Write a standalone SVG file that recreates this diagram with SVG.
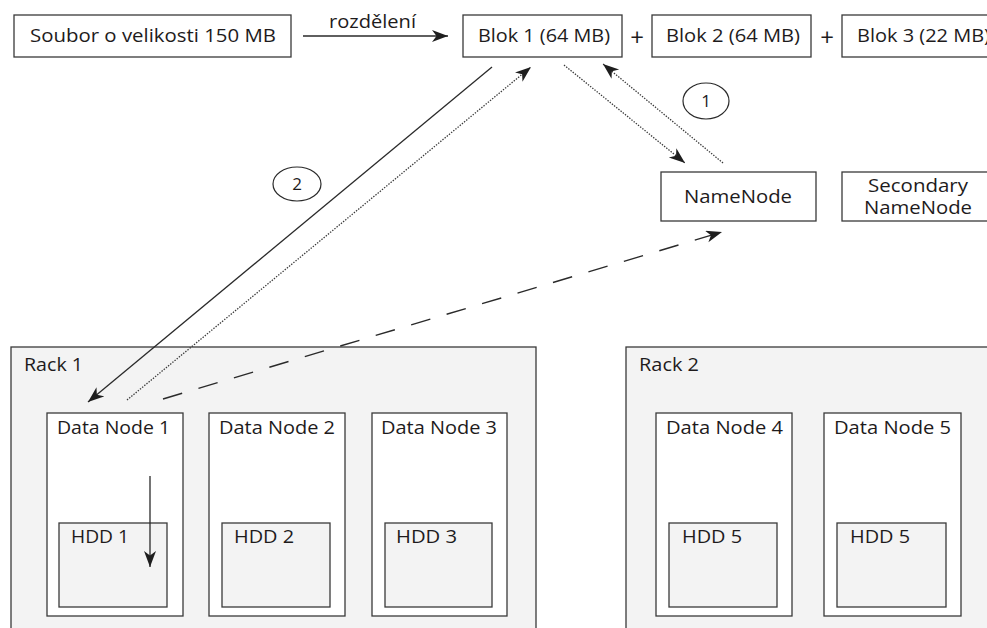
<svg xmlns="http://www.w3.org/2000/svg" width="987" height="628" viewBox="0 0 987 628">
  <style>
    .box { fill: #ffffff; stroke: #3a3a3a; stroke-width: 1.3; }
    .rack { fill: #f3f3f3; stroke: #3a3a3a; stroke-width: 1.3; }
    .hdd { fill: #f3f3f3; stroke: #3a3a3a; stroke-width: 1.3; }
    .lbl { font-family: "Open Sans", "Noto Sans", sans-serif; font-size: 18px; fill: #1e1b1c; }
    .num { font-family: "Open Sans", "Noto Sans", sans-serif; font-size: 17px; fill: #1e1b1c; text-anchor: middle; }
    .plus { font-family: "Open Sans", "Noto Sans", sans-serif; font-size: 24px; fill: #1e1b1c; text-anchor: middle; }
    .ring { fill: #ffffff; stroke: #2a2a2a; stroke-width: 1.2; }
    .solid { fill: none; stroke: #2a2a2a; stroke-width: 1.3; marker-end: url(#head); }
    .dotted { fill: none; stroke: #3a3a3a; stroke-width: 1.3; stroke-dasharray: 1.4 1.4; marker-end: url(#head); }
    .dashed { fill: none; stroke: #2a2a2a; stroke-width: 1.4; stroke-dasharray: 20 17; marker-end: url(#head); }
  </style>
  <defs>
    <marker id="head" markerUnits="userSpaceOnUse" markerWidth="18" markerHeight="14" refX="16" refY="6" orient="auto">
      <path d="M0,0 L16,6 L0,12 L4.5,6 z" fill="#1e1e1e"/>
    </marker>
  </defs>

  <rect width="987" height="628" fill="#ffffff"/>

  <!-- source file and its blocks -->
  <g id="file">
    <rect class="box" x="14" y="15" width="277" height="42"/>
    <text class="lbl" x="30" y="42" textLength="246" lengthAdjust="spacingAndGlyphs">Soubor o velikosti 150 MB</text>
  </g>
  <g id="block1">
    <rect class="box" x="463" y="15" width="159" height="42"/>
    <text class="lbl" x="478" y="42" textLength="132" lengthAdjust="spacingAndGlyphs">Blok 1 (64 MB)</text>
  </g>
  <text class="plus" x="637" y="46">+</text>
  <g id="block2">
    <rect class="box" x="652" y="15" width="159" height="42"/>
    <text class="lbl" x="666" y="42" textLength="134" lengthAdjust="spacingAndGlyphs">Blok 2 (64 MB)</text>
  </g>
  <text class="plus" x="827" y="46">+</text>
  <g id="block3">
    <rect class="box" x="842" y="15" width="170" height="42"/>
    <text class="lbl" x="857" y="42" textLength="133" lengthAdjust="spacingAndGlyphs">Blok 3 (22 MB)</text>
  </g>

  <!-- name nodes -->
  <g id="namenode">
    <rect class="box" x="661" y="172" width="155" height="49"/>
    <text class="lbl" x="684" y="203" textLength="108" lengthAdjust="spacingAndGlyphs">NameNode</text>
  </g>
  <g id="secondary-namenode">
    <rect class="box" x="842" y="172" width="170" height="49"/>
    <text class="lbl" x="868" y="192" textLength="100" lengthAdjust="spacingAndGlyphs">Secondary</text>
    <text class="lbl" x="864" y="214" textLength="108" lengthAdjust="spacingAndGlyphs">NameNode</text>
  </g>

  <!-- rack 1 -->
  <g id="rack1">
    <rect class="rack" x="11" y="347" width="525" height="300"/>
    <text class="lbl" x="24" y="371" textLength="59" lengthAdjust="spacingAndGlyphs">Rack 1</text>
  </g>
  <g id="datanode1">
    <rect class="box" x="47" y="413" width="136" height="203"/>
    <text class="lbl" x="57" y="434" textLength="113" lengthAdjust="spacingAndGlyphs">Data Node 1</text>
    <rect class="hdd" x="59" y="523" width="108" height="84"/>
    <text class="lbl" x="71" y="543" textLength="58" lengthAdjust="spacingAndGlyphs">HDD 1</text>
  </g>
  <g id="datanode2">
    <rect class="box" x="209" y="413" width="136" height="203"/>
    <text class="lbl" x="219" y="434" textLength="116" lengthAdjust="spacingAndGlyphs">Data Node 2</text>
    <rect class="hdd" x="222" y="523" width="108" height="84"/>
    <text class="lbl" x="234" y="543" textLength="60" lengthAdjust="spacingAndGlyphs">HDD 2</text>
  </g>
  <g id="datanode3">
    <rect class="box" x="372" y="413" width="135" height="203"/>
    <text class="lbl" x="381" y="434" textLength="116" lengthAdjust="spacingAndGlyphs">Data Node 3</text>
    <rect class="hdd" x="385" y="523" width="107" height="84"/>
    <text class="lbl" x="396" y="543" textLength="61" lengthAdjust="spacingAndGlyphs">HDD 3</text>
  </g>

  <!-- rack 2 -->
  <g id="rack2">
    <rect class="rack" x="626" y="347" width="400" height="300"/>
    <text class="lbl" x="639" y="371" textLength="60" lengthAdjust="spacingAndGlyphs">Rack 2</text>
  </g>
  <g id="datanode4">
    <rect class="box" x="656" y="413" width="136" height="203"/>
    <text class="lbl" x="666" y="434" textLength="117" lengthAdjust="spacingAndGlyphs">Data Node 4</text>
    <rect class="hdd" x="669" y="523" width="108" height="84"/>
    <text class="lbl" x="682" y="543" textLength="60" lengthAdjust="spacingAndGlyphs">HDD 5</text>
  </g>
  <g id="datanode5">
    <rect class="box" x="824" y="413" width="137" height="203"/>
    <text class="lbl" x="834" y="434" textLength="117" lengthAdjust="spacingAndGlyphs">Data Node 5</text>
    <rect class="hdd" x="837" y="523" width="109" height="84"/>
    <text class="lbl" x="850" y="543" textLength="60" lengthAdjust="spacingAndGlyphs">HDD 5</text>
  </g>

  <!-- step markers -->
  <g id="step1">
    <ellipse class="ring" cx="706" cy="101" rx="23" ry="18"/>
    <text class="num" x="706" y="107">1</text>
  </g>
  <g id="step2">
    <ellipse class="ring" cx="297" cy="184" rx="24" ry="17"/>
    <text class="num" x="297" y="190">2</text>
  </g>

  <!-- connectors -->
  <g id="connectors">
    <line class="solid" x1="303" y1="36" x2="448" y2="36"/>
    <text class="lbl" x="329" y="28" textLength="87" lengthAdjust="spacingAndGlyphs">rozdělení</text>
    <line class="solid" x1="492" y1="67" x2="88" y2="402"/>
    <line class="dotted" x1="127" y1="400" x2="531" y2="67"/>
    <line class="dotted" x1="564" y1="65" x2="685" y2="163"/>
    <line class="dotted" x1="723" y1="163" x2="603" y2="64"/>
    <line class="dashed" x1="163" y1="399" x2="722" y2="232"/>
    <line class="solid" x1="150" y1="476" x2="150" y2="567"/>
  </g>
</svg>
